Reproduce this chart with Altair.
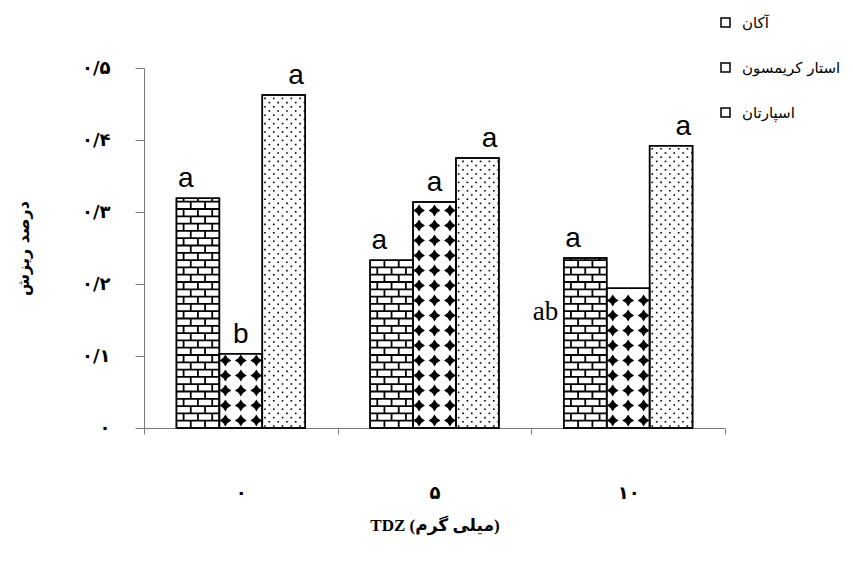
import json
import math
import altair as alt
import pandas as pd

# ---------------- data ----------------
doses = ["۰", "۵", "۱۰"]
cultivars = ["آکان", "استار کریمسون", "اسپارتان"]
akan = [0.319, 0.233, 0.236]
star_crimson = [0.103, 0.314, 0.194]
spartan = [0.4625, 0.375, 0.392]
akan_letters = ["a", "a", "a"]
star_letters = ["b", "a", "ab"]
spartan_letters = ["a", "a", "a"]
ytick_values = [0, 0.1, 0.2, 0.3, 0.4, 0.5]
ytick_labels = ["۰", "۰/۱", "۰/۲", "۰/۳", "۰/۴", "۰/۵"]
x_title = "TDZ (میلی گرم)"
y_title = "درصد ریزش"

rows = []
for c, vals, lets in zip(cultivars, [akan, star_crimson, spartan],
                         [akan_letters, star_letters, spartan_letters]):
    for d, v, l in zip(doses, vals, lets):
        rows.append({"dose": d, "cultivar": c, "value": v, "letter": l})
df = pd.DataFrame(rows)

# ---------------- layout helpers for the hatch lattices ----------------
PX = 0.5 / 360.0          # one pixel in data units (plot height 360 px for 0..0.5)
P = 0.756                 # outer padding of the bar group, in bar widths


def lattice(n, boundary=False):
    """Sub-band lattice with n positions per bar; returns (domain, paddingOuter, shift)."""
    base = n * P - (0.5 if boundary else 0.0)
    shift = math.floor(base)
    po = base - shift
    total = int(round(3 * n + 2 * n * P - 2 * po))
    return list(range(total)), po, shift


def xo_lattice(n, boundary=False):
    dom, po, _ = lattice(n, boundary)
    return alt.XOffset("m:O", scale=alt.Scale(domain=dom, paddingInner=0, paddingOuter=po))


# ---------------- hatch patterns derived from the bar values ----------------
# bricks (first cultivar)
brick_lines, brick_joints = [], []
hb = 7.3 * PX
_, _, sh_b = lattice(6, boundary=True)
for d, v in zip(doses, akan):
    k = 1
    while k * hb < v - 1.5 * PX:
        brick_lines.append({"dose": d, "cultivar": cultivars[0],
                            "y": k * hb - 0.9 * PX, "y2": k * hb + 0.9 * PX})
        k += 1
    r = 0
    while r * hb < v - 1.0 * PX:
        y0, y1 = r * hb, min((r + 1) * hb, v)
        for kk in ([2, 4] if r % 2 == 0 else [1, 3, 5]):
            brick_joints.append({"dose": d, "m": sh_b + kk, "y": y0, "y2": y1})
        r += 1
brick_lines = pd.DataFrame(brick_lines)
brick_joints = pd.DataFrame(brick_joints)

# diamonds (second cultivar)
diamonds = []
_, _, sh_d = lattice(3)
for d, v in zip(doses, star_crimson):
    r = 0
    while 7.5 * PX + r * 15 * PX + 4 * PX < v:
        for kk in range(3):
            diamonds.append({"dose": d, "m": sh_d + 3 + kk, "y": 7.5 * PX + r * 15 * PX})
        r += 1
diamonds = pd.DataFrame(diamonds)

# dots (third cultivar)
dots = []
_, _, sh_p = lattice(10)
for d, v in zip(doses, spartan):
    r = 0
    while 2 * PX + r * 4.2 * PX < v - 1.5 * PX:
        for kk in range(r % 2, 10, 2):
            dots.append({"dose": d, "m": sh_p + 20 + kk, "y": 2 * PX + r * 4.2 * PX})
        r += 1
dots = pd.DataFrame(dots)

# ---------------- scales / axes ----------------
axis_color = "#7a7a7a"
x_scale = alt.Scale(domain=doses, paddingInner=0, paddingOuter=0)
y_scale = alt.Scale(domain=[0, 0.5], nice=False)

label_expr = "[" + ",".join(json.dumps(s, ensure_ascii=False) for s in ytick_labels) + "][round(datum.value*10)]"

x_axis = alt.Axis(title=x_title, tickBand="extent", labelAngle=0,
                  domainColor=axis_color, tickColor=axis_color, tickSize=6,
                  labelFont="DejaVu Sans", labelFontSize=18, labelFontWeight="bold",
                  labelColor="black", labelPadding=59, labelBaseline="middle",
                  titleFont="Liberation Serif, DejaVu Sans", titleFontSize=17,
                  titleFontWeight="bold", titleColor="black", titleY=97,
                  titleBaseline="middle")
y_axis = alt.Axis(title=y_title, values=ytick_values, labelExpr=label_expr, grid=False,
                  domainColor=axis_color, tickColor=axis_color, tickSize=9,
                  labelFont="DejaVu Sans", labelFontSize=18, labelFontWeight="bold",
                  labelColor="black", labelPadding=25,
                  titleFont="DejaVu Sans", titleFontSize=16, titleFontWeight="bold",
                  titleColor="black", titleX=-121, titleY=180, titleBaseline="middle")

X = alt.X("dose:N", scale=x_scale, axis=x_axis, sort=doses)


def xo_cultivar():
    return alt.XOffset("cultivar:N", sort=cultivars,
                       scale=alt.Scale(domain=cultivars, paddingInner=0, paddingOuter=P))


def Y(field):
    return alt.Y(field, scale=y_scale, axis=y_axis)


legend = alt.Legend(orient="none", legendX=574, legendY=-53, title=None,
                    symbolType="square", symbolSize=81, symbolStrokeColor="black",
                    symbolStrokeWidth=1.5, labelFont="DejaVu Sans", labelFontSize=15,
                    labelColor="black", labelOffset=9, rowPadding=29)

bars = alt.Chart(df).mark_bar(stroke="black", strokeWidth=1.5).encode(
    x=X, xOffset=xo_cultivar(), y=Y("value:Q"),
    fill=alt.Fill("cultivar:N", sort=cultivars,
                  scale=alt.Scale(domain=cultivars, range=["white", "white", "white"]),
                  legend=legend),
)

b_lines = alt.Chart(brick_lines).mark_rect(color="black").encode(
    x=X, xOffset=xo_cultivar(), y=Y("y:Q"), y2="y2:Q")

b_joints = alt.Chart(brick_joints).mark_rule(color="black", strokeWidth=1.8).encode(
    x=X, xOffset=xo_lattice(6, boundary=True), y=Y("y:Q"), y2="y2:Q")

star_path = "M0,-1 Q0.3,-0.3 1,0 Q0.3,0.3 0,1 Q-0.3,0.3 -1,0 Q-0.3,-0.3 0,-1 Z"
dia = alt.Chart(diamonds).mark_point(shape=star_path, filled=True, color="black",
                                     size=140, opacity=1).encode(
    x=X, xOffset=xo_lattice(3), y=Y("y:Q"))

dot = alt.Chart(dots).mark_square(color="black", size=2.6, opacity=1).encode(
    x=X, xOffset=xo_lattice(10), y=Y("y:Q"))

outline = alt.Chart(df).mark_bar(fill="transparent", stroke="black", strokeWidth=1.5).encode(
    x=X, xOffset=xo_cultivar(), y=Y("value:Q"))

labels = alt.Chart(df).transform_filter("datum.letter != 'ab'").mark_text(
    font="Liberation Sans", fontSize=28, baseline="alphabetic", dy=-11, color="black").encode(
    x=X, xOffset=xo_cultivar(), y=Y("value:Q"), text="letter:N")

label_ab = alt.Chart(df).transform_filter("datum.letter == 'ab'").mark_text(
    font="Liberation Serif", fontSize=27, baseline="alphabetic", align="right",
    dx=-70, dy=32, color="black").encode(
    x=X, xOffset=xo_cultivar(), y=Y("value:Q"), text="letter:N")

chart = alt.layer(bars, b_lines, b_joints, dia, dot, outline, labels, label_ab).resolve_scale(
    xOffset="independent"
).properties(
    width=581, height=360,
    autosize=alt.AutoSizeParams(type="none"),
    padding={"left": 136, "top": 60, "right": 116, "bottom": 120},
).configure_view(stroke="transparent")

chart.save("out.html", embed_options={"renderer": "svg", "actions": False})
